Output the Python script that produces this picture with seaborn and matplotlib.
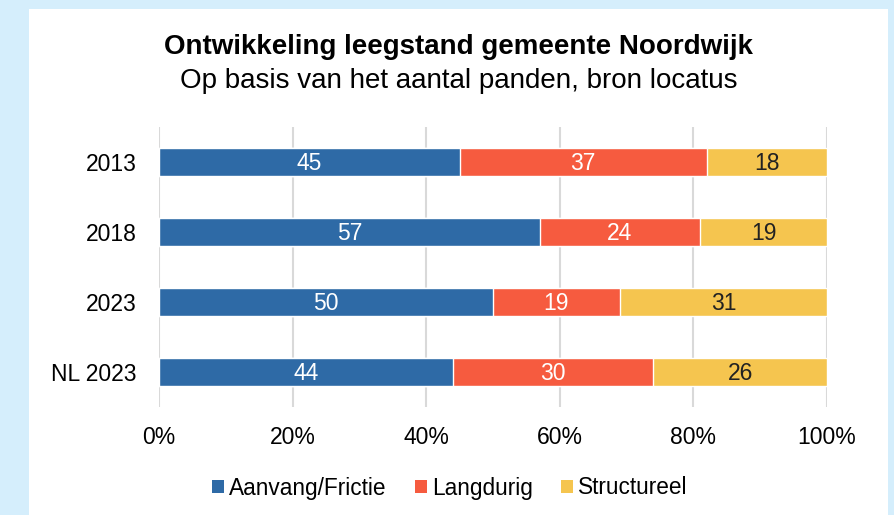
import matplotlib
matplotlib.use("Agg")
import matplotlib.pyplot as plt
from matplotlib.patches import Rectangle, Patch
import seaborn as sns
import pandas as pd
import numpy as np

categories = ["2013", "2018", "2023", "NL 2023"]
aanvang = [45, 57, 50, 44]
langdurig = [37, 24, 19, 30]
structureel = [18, 19, 31, 26]
series_names = ["Aanvang/Frictie", "Langdurig", "Structureel"]
xtick_labels = ["0%", "20%", "40%", "60%", "80%", "100%"]

colors = ["#2E6AA6", "#F65B3F", "#F5C54F"]
label_colors = ["white", "white", "#222222"]

sns.set_theme(style="white")
plt.rcParams["font.family"] = ["Liberation Sans", "DejaVu Sans"]

W, H = 895, 515
fig = plt.figure(figsize=(W / 100, H / 100), dpi=100)
fig.patch.set_facecolor("#D5EEFC")
bg = Rectangle((29 / W, 0), (888 - 29) / W, (H - 9) / H,
               transform=fig.transFigure, facecolor="white",
               edgecolor="none", zorder=-10)
fig.patches.append(bg)

ax = fig.add_axes([159 / W, 1 - 407 / H, (827 - 159) / W, (407 - 127) / H])
ax.set_facecolor("none")
ax.set_zorder(5)

vals = np.array([aanvang, langdurig, structureel], dtype=float)
cum = np.cumsum(vals, axis=0)
df = pd.DataFrame({"cat": categories})

# draw from the widest cumulative layer to the narrowest
for i in [2, 1, 0]:
    d = df.copy()
    d["v"] = cum[i]
    sns.barplot(data=d, x="v", y="cat", orient="h", color=colors[i],
                saturation=1, width=0.4, ax=ax, zorder=3)

lab_fs = 16.5
for i in range(3):
    starts = cum[i] - vals[i]
    for j, c in enumerate(categories):
        ax.annotate(f"{int(vals[i][j])}", (starts[j] + vals[i][j] / 2, j),
                    xytext=(0, -0.358 * lab_fs), textcoords="offset points",
                    ha="center", va="baseline", color=label_colors[i],
                    fontsize=lab_fs, zorder=5)

ax.set_xlim(0, 100)
ax.set_ylim(3.5, -0.5)
ax.set_xticks([0, 20, 40, 60, 80, 100])
ax.set_xticklabels(xtick_labels)
ax.set_xlabel("")
ax.set_ylabel("")
ax.tick_params(axis="both", length=0, labelsize=16.5, colors="black")
ax.tick_params(axis="y", pad=16)
ax.tick_params(axis="x", pad=14)
ax.xaxis.grid(True, color="#D9D9D9", linewidth=1.5, zorder=0)
ax.set_axisbelow(True)
for s in ax.spines.values():
    s.set_visible(False)

cx = 0.5 * (29 + 888) / W
fig.text(cx, 1 - 47 / H, "Ontwikkeling leegstand gemeente Noordwijk",
         ha="center", va="center", fontsize=20, fontweight="bold", color="black")
fig.text(cx, 1 - 81 / H, "Op basis van het aantal panden, bron locatus",
         ha="center", va="center", fontsize=20, color="black")

handles = [Patch(facecolor=colors[i], edgecolor="none", label=series_names[i]) for i in range(3)]
leg = fig.legend(handles=handles, loc="center", bbox_to_anchor=(cx - 8.5 / W, 1 - 488 / H),
                 ncol=3, frameon=False, fontsize=16.3, handlelength=0.53, handleheight=0.53,
                 handletextpad=0.22, columnspacing=1.25)
for t in leg.get_texts():
    t.set_color("black")

fig.savefig("out.png", dpi=100)
